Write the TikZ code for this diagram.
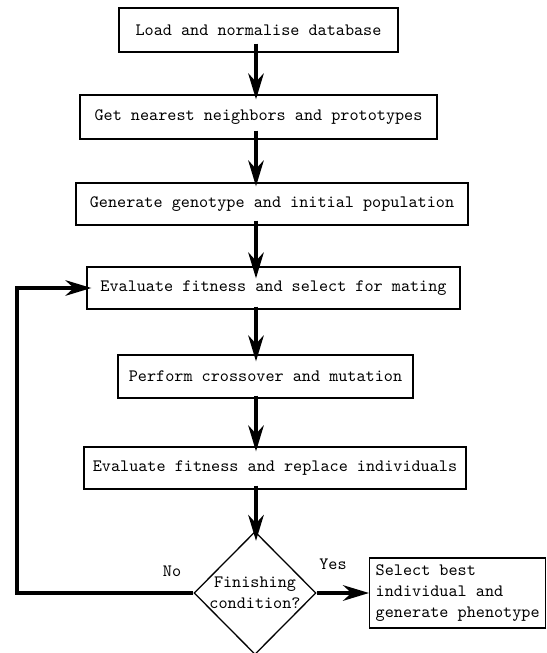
\documentclass[tikz,border=0pt]{standalone}
\usetikzlibrary{arrows.meta,shapes.geometric}
\newcommand{\pxu}{0.5764pt}
\begin{document}
\begin{tikzpicture}[x=0.5764pt,y=-0.5764pt,
  box/.style={draw,line width=0.75pt,inner sep=0pt,font=\ttfamily},
  flow/.style={line width=1.9pt,-{Stealth[length=15pt,width=9pt]}},
  lbl/.style={font=\ttfamily,inner sep=0pt}]
\useasboundingbox (0,0) rectangle (546,653);
\coordinate (axis) at (256,0);
\coordinate (loopx) at (17,0);
\node[box,minimum width=279*\pxu,minimum height=44*\pxu] (b1) at (258.5,30) {Load and normalise database};
\node[box,minimum width=357*\pxu,minimum height=44*\pxu] (b2) at (258.5,117) {Get nearest neighbors and prototypes};
\node[box,minimum width=392*\pxu,minimum height=42*\pxu] (b3) at (272,204) {Generate genotype and initial population};
\node[box,minimum width=373*\pxu,minimum height=42*\pxu] (b4) at (273.5,288) {Evaluate fitness and select for mating};
\node[box,minimum width=295*\pxu,minimum height=43*\pxu] (b5) at (265.5,376.5) {Perform crossover and mutation};
\node[box,minimum width=382*\pxu,minimum height=42*\pxu] (b6) at (275,468) {Evaluate fitness and replace individuals};
\node[diamond,draw,line width=0.75pt,inner sep=0pt,minimum width=122*\pxu,minimum height=123*\pxu,
  label={[font=\ttfamily,align=center,inner sep=0pt]center:Finishing\\condition?}] (dec) at (255,593) {};
\node[box,anchor=west,align=left,inner xsep=3.5pt,minimum height=70*\pxu] (sel) at (369,593) {Select best\\individual and\\generate phenotype};
\node[lbl] (yes) at (333,564) {Yes};
\node[lbl] (no) at (172,571) {No};
\draw[flow] ([yshift=9*\pxu]b1.south -| axis) -- ([yshift=-5*\pxu]b2.north -| axis);
\draw[flow] ([yshift=9*\pxu]b2.south -| axis) -- ([yshift=-4*\pxu]b3.north -| axis);
\draw[flow] ([yshift=5*\pxu]b3.south -| axis) -- ([yshift=-12*\pxu]b4.north -| axis);
\draw[flow] ([yshift=3*\pxu]b4.south -| axis) -- ([yshift=-7*\pxu]b5.north -| axis);
\draw[flow] ([yshift=3*\pxu]b5.south -| axis) -- ([yshift=-5*\pxu]b6.north -| axis);
\draw[flow] ([yshift=4*\pxu]b6.south -| axis) -- ([yshift=-10*\pxu]dec.north -| axis);
\draw[flow] (dec.east) -- (sel.west);
\draw[flow] (dec.west) -| (loopx |- b4.west) -- ([xshift=5*\pxu]b4.west);
\end{tikzpicture}
\end{document}
